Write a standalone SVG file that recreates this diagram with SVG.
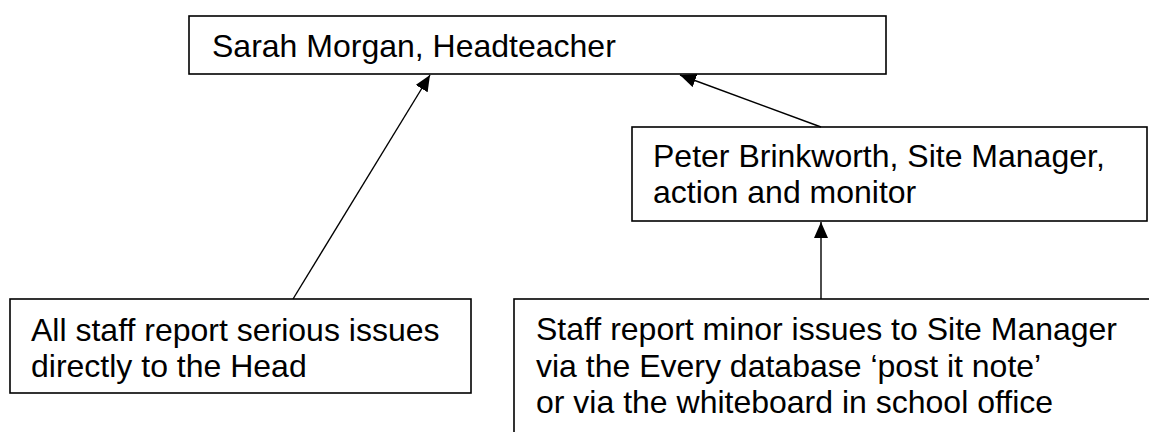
<svg xmlns="http://www.w3.org/2000/svg" width="1149" height="432" viewBox="0 0 1149 432">
  <style>
    .box { fill: #ffffff; stroke: #000000; stroke-width: 1.6; }
    .lbl { font-family: "Liberation Sans", Arial, sans-serif; font-size: 32px; fill: #000000; }
    .conn { stroke: #000000; stroke-width: 1.4; fill: none; marker-end: url(#arrow); }
  </style>
  <defs>
    <marker id="arrow" markerUnits="userSpaceOnUse" markerWidth="18" markerHeight="14" refX="16" refY="7" orient="auto">
      <path d="M0,0 L16,7 L0,14 z" fill="#000000"/>
    </marker>
  </defs>
  <rect width="1149" height="432" fill="#ffffff"/>

  <g id="node-head">
    <rect class="box" x="189" y="16" width="697" height="58"/>
    <text class="lbl" x="212" y="57">Sarah Morgan, Headteacher</text>
  </g>

  <g id="node-site-manager">
    <rect class="box" x="632" y="127" width="515" height="94"/>
    <text class="lbl" x="653" y="167">Peter Brinkworth, Site Manager,</text>
    <text class="lbl" x="653" y="203">action and monitor</text>
  </g>

  <g id="node-serious">
    <rect class="box" x="10" y="299" width="461" height="94"/>
    <text class="lbl" x="31" y="341">All staff report serious issues</text>
    <text class="lbl" x="31" y="377">directly to the Head</text>
  </g>

  <g id="node-minor">
    <rect class="box" x="514" y="299" width="700" height="200"/>
    <text class="lbl" x="536" y="340">Staff report minor issues to Site Manager</text>
    <text class="lbl" x="536" y="377">via the Every database ‘post it note’</text>
    <text class="lbl" x="536" y="413">or via the whiteboard in school office</text>
  </g>

  <g id="connectors">
    <line class="conn" x1="293" y1="299" x2="430" y2="75"/>
    <line class="conn" x1="821" y1="127" x2="680" y2="75"/>
    <line class="conn" x1="821" y1="299" x2="821" y2="222"/>
  </g>
</svg>
